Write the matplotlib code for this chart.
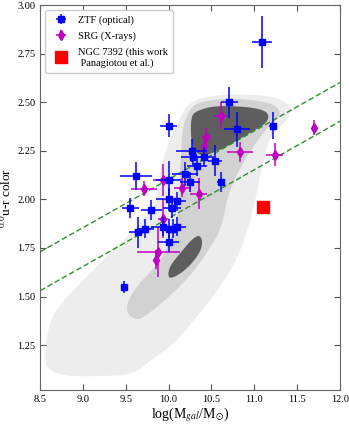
import matplotlib
matplotlib.use("Agg")
import matplotlib.pyplot as plt
from matplotlib.patches import Polygon
import numpy as np

plt.rcParams["font.family"] = ["Liberation Serif", "DejaVu Serif"]
plt.rcParams["mathtext.fontset"] = "stix"

# ZTF (optical): log stellar mass, u-r colour, errors
ztf_mass = [11.09, 10.71, 10.80, 11.22, 10.27, 10.29, 10.41, 10.33, 10.54, 10.19,
            10.25, 10.61, 10.00, 9.62, 10.00, 9.55, 9.80, 10.00, 10.10, 10.04,
            9.64, 9.73, 9.94, 10.00, 10.05, 10.10, 10.00, 9.48]
ztf_color = [2.81, 2.50, 2.36, 2.38, 2.25, 2.22, 2.22, 2.17, 2.20, 2.13,
             2.09, 2.09, 2.38, 2.12, 2.10, 1.955, 1.946, 2.00, 1.99, 1.955,
             1.83, 1.85, 1.86, 1.85, 1.85, 1.86, 1.78, 1.55]
ztf_xerr = [0.12, 0.10, 0.15, 0.05, 0.18, 0.15, 0.12, 0.12, 0.08, 0.15,
            0.12, 0.05, 0.10, 0.19, 0.15, 0.10, 0.12, 0.15, 0.10, 0.10,
            0.10, 0.10, 0.15, 0.10, 0.10, 0.10, 0.12, 0.04]
ztf_yerr = [0.135, 0.08, 0.09, 0.07, 0.06, 0.05, 0.05, 0.05, 0.08, 0.06,
            0.05, 0.05, 0.06, 0.07, 0.10, 0.05, 0.05, 0.06, 0.05, 0.05,
            0.08, 0.05, 0.05, 0.05, 0.05, 0.05, 0.05, 0.03]

# SRG (X-rays)
srg_mass = [11.70, 10.61, 10.44, 10.41, 10.83, 11.24, 9.71, 9.94, 10.16, 10.35,
            9.93, 9.88, 9.85]
srg_color = [2.37, 2.43, 2.32, 2.27, 2.245, 2.23, 2.055, 2.10, 2.06, 2.03,
             1.90, 1.73, 1.69]
srg_xerr = [0.03, 0.08, 0.05, 0.03, 0.15, 0.10, 0.15, 0.12, 0.10, 0.10,
            0.05, 0.25, 0.03]
srg_yerr = [0.04, 0.07, 0.05, 0.04, 0.05, 0.06, 0.04, 0.08, 0.05, 0.08,
            0.10, 0.13, 0.05]

# NGC 7392
ngc_mass = [11.10]
ngc_color = [1.96]

# green valley boundaries: colour at log M = 8.5 and slope
gv_intercepts = [1.73, 1.53]
gv_slope = 0.249

# galaxy density contours (outlines), light -> dark
outer_x = [8.56, 8.56, 8.62, 8.71, 9.08, 9.47, 9.78, 9.86, 9.90, 9.99, 10.11, 10.20,
           10.36, 10.63, 11.02, 11.29, 11.43, 11.41, 11.29, 11.17, 11.11, 11.05,
           10.98, 10.87, 10.71, 10.50, 10.28, 10.05, 9.81, 9.63, 9.40]
outer_y = [1.09, 1.26, 1.37, 1.45, 1.62, 1.79, 1.93, 2.00, 2.15, 2.28, 2.40, 2.48,
           2.52, 2.54, 2.54, 2.52, 2.48, 2.42, 2.37, 2.31, 2.20, 2.08,
           1.93, 1.77, 1.62, 1.49, 1.37, 1.25, 1.18, 1.11, 1.09]
mid_x = [9.52, 9.51, 9.55, 9.66, 9.86, 9.98, 10.05, 10.11, 10.13, 10.13, 10.15, 10.16,
         10.21, 10.30, 10.48, 10.71, 11.02, 11.23, 11.31, 11.27, 11.17, 11.00,
         10.83, 10.69, 10.65, 10.59, 10.51, 10.33, 10.13, 9.93, 9.70, 9.62]
mid_y = [1.41, 1.45, 1.50, 1.57, 1.66, 1.74, 1.83, 1.92, 2.02, 2.15, 2.25, 2.36,
         2.43, 2.49, 2.51, 2.52, 2.51, 2.49, 2.45, 2.41, 2.38, 2.28,
         2.16, 2.02, 1.92, 1.83, 1.77, 1.65, 1.55, 1.47, 1.39, 1.38]
red_x = [10.26, 10.28, 10.36, 10.52, 10.79, 11.02, 11.15, 11.17, 11.13, 11.02,
         10.86, 10.71, 10.55, 10.42, 10.33, 10.28, 10.26]
red_y = [2.40, 2.44, 2.46, 2.48, 2.48, 2.47, 2.45, 2.42, 2.39, 2.36,
         2.32, 2.28, 2.245, 2.225, 2.235, 2.27, 2.33]
blue_x = [10.36, 10.40, 10.36, 10.21, 10.05, 9.99, 10.01, 10.13, 10.26]
blue_y = [1.82, 1.78, 1.72, 1.64, 1.595, 1.60, 1.655, 1.72, 1.79]


def smooth(xs, ys, n=3):
    # Chaikin corner cutting to round the hand-read outlines
    pts = np.column_stack([xs, ys])
    for _ in range(n):
        nxt = np.roll(pts, -1, axis=0)
        q = 0.75 * pts + 0.25 * nxt
        r = 0.25 * pts + 0.75 * nxt
        pts = np.empty((2 * len(q), 2))
        pts[0::2] = q
        pts[1::2] = r
    return pts


fig = plt.figure(figsize=(3.49, 4.26), dpi=100)
ax = fig.add_axes([0.115, 0.085, 0.859, 0.903])

for xs, ys, c in [(outer_x, outer_y, "#ededed"), (mid_x, mid_y, "#d2d2d2"),
                  (red_x, red_y, "#5e5e5e"), (blue_x, blue_y, "#5e5e5e")]:
    ax.add_patch(Polygon(smooth(xs, ys), closed=True, facecolor=c,
                         edgecolor="none", zorder=1))

xx = np.array([8.5, 12.0])
for b in gv_intercepts:
    ax.plot(xx, b + gv_slope * (xx - 8.5), ls="--", color="#2f8f2f",
            lw=1.0, dashes=(4, 2), zorder=2)

h_ztf = ax.errorbar(ztf_mass, ztf_color, xerr=ztf_xerr, yerr=ztf_yerr, fmt="s",
                    color="#0000ff", ms=5, elinewidth=1.1, capsize=0, zorder=4,
                    label="ZTF (optical)")
h_srg = ax.errorbar(srg_mass, srg_color, xerr=srg_xerr, yerr=srg_yerr, fmt="d",
                    color="#c000c0", ms=5, elinewidth=1.1, capsize=0, zorder=3,
                    label="SRG (X-rays)")
h_ngc, = ax.plot(ngc_mass, ngc_color, "s", color="red", ms=8, ls="none", zorder=5,
                 label="NGC 7392 (this work\n Panagiotou et al.)")

ax.set_xlim(8.5, 12.0)
ax.set_ylim(1.02, 3.0)
ax.set_xticks([8.5, 9.0, 9.5, 10.0, 10.5, 11.0, 11.5, 12.0])
ax.set_yticks([1.25, 1.50, 1.75, 2.00, 2.25, 2.50, 2.75, 3.00])
ax.set_xticklabels(["8.5", "9.0", "9.5", "10.0", "10.5", "11.0", "11.5", "12.0"])
ax.set_yticklabels(["1.25", "1.50", "1.75", "2.00", "2.25", "2.50", "2.75", "3.00"])
ax.tick_params(direction="in", top=True, right=True, labelsize=7.5,
               length=4, width=0.8, color="#555555")
for s in ax.spines.values():
    s.set_color("#666666")
    s.set_linewidth(0.8)

ax.set_xlabel(r"log(M$_{gal}$/M$_{\odot}$)", fontsize=10, labelpad=1)
ax.set_ylabel(r"$^{0.0}$u-r color", fontsize=9.5)
ax.yaxis.set_label_coords(-0.088, 0.5)

ax.legend(handles=[h_ztf, h_srg, h_ngc], loc="upper left", fontsize=7.5,
          frameon=True, borderpad=0.5, handletextpad=0.6, labelspacing=0.6,
          framealpha=1, edgecolor="#cccccc")

fig.savefig("out.png", dpi=100)
